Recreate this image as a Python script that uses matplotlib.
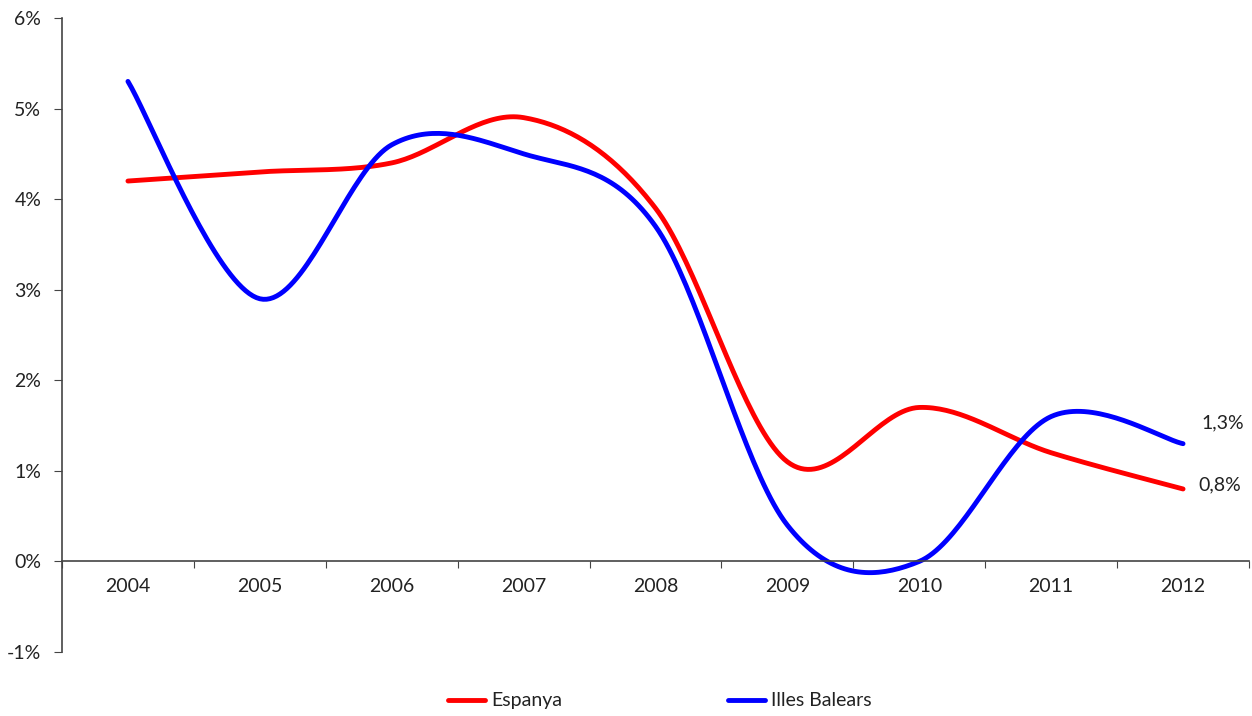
import numpy as np
import matplotlib.pyplot as plt
from matplotlib.ticker import FuncFormatter

plt.rcParams['font.family'] = ['Lato', 'DejaVu Sans']

years = ['2004', '2005', '2006', '2007', '2008', '2009', '2010', '2011', '2012']
espanya = [4.2, 4.3, 4.4, 4.9, 3.9, 1.1, 1.7, 1.2, 0.8]
balears = [5.3, 2.9, 4.6, 4.5, 3.7, 0.4, 0.0, 1.6, 1.3]


def smooth(xs, ys, n=40):
    """Excel-like smoothed line: cubic Bezier segments with Catmull-Rom handles."""
    pts = np.column_stack([xs, ys]).astype(float)
    padded = np.vstack([pts[0], pts, pts[-1]])
    t = np.linspace(0, 1, n)[:, None]
    out = []
    for i in range(len(pts) - 1):
        p0, p1, p2, p3 = padded[i], padded[i + 1], padded[i + 2], padded[i + 3]
        c1 = p1 + (p2 - p0) / 6
        c2 = p2 - (p3 - p1) / 6
        seg = ((1 - t) ** 3) * p1 + 3 * ((1 - t) ** 2) * t * c1 + 3 * (1 - t) * t ** 2 * c2 + t ** 3 * p2
        out.append(seg if i == 0 else seg[1:])
    seg = np.vstack(out)
    return seg[:, 0], seg[:, 1]


fig = plt.figure(figsize=(12.52, 7.16), dpi=100)
ax = fig.add_axes([62 / 1252, 64 / 716, 1187 / 1252, 634 / 716])

x = np.arange(len(years))
ex, ey = smooth(x, espanya)
bx, by = smooth(x, balears)
ax.plot(ex, ey, color='#ff0000', lw=3.5, solid_capstyle='round', label='Espanya')
ax.plot(bx, by, color='#0000ff', lw=3.5, solid_capstyle='round', label='Illes Balears')

# end labels
ax.annotate('1,3%', (x[-1], balears[-1]), xytext=(13, 15), textcoords='offset points',
            fontsize=14, color='#222222', ha='left', va='center')
ax.annotate('0,8%', (x[-1], espanya[-1]), xytext=(11, 3), textcoords='offset points',
            fontsize=14, color='#222222', ha='left', va='center')

ax.set_xlim(-0.5, len(years) - 0.5)
ax.set_ylim(-1, 6)
ax.set_yticks(range(-1, 7))
ax.yaxis.set_major_formatter(FuncFormatter(lambda v, p: f'{int(v)}%'))

# x axis at zero, ticks on category boundaries
ax.spines['bottom'].set_position(('data', 0))
ax.spines['top'].set_visible(False)
ax.spines['right'].set_visible(False)
for s in ('left', 'bottom'):
    ax.spines[s].set_color('#444444')
    ax.spines[s].set_linewidth(1.2)
ax.set_xticks(np.arange(-0.5, len(years) - 0.5 + 0.01, 1.0))
ax.set_xticklabels([])
ax.tick_params(axis='x', direction='out', length=5, color='#444444')
ax.tick_params(axis='y', direction='out', length=6, color='#444444',
               labelsize=14, labelcolor='#222222', pad=9)
for i, yr in enumerate(years):
    ax.text(i, -0.28, yr, ha='center', va='center', fontsize=14, color='#222222')

leg = fig.legend(loc='center', bbox_to_anchor=(0.527, 0.021), ncol=2, frameon=False,
                 fontsize=14, handlelength=1.9, handletextpad=0.35, columnspacing=8.5)
for t in leg.get_texts():
    t.set_color('#222222')

fig.savefig('out.png', dpi=100)
